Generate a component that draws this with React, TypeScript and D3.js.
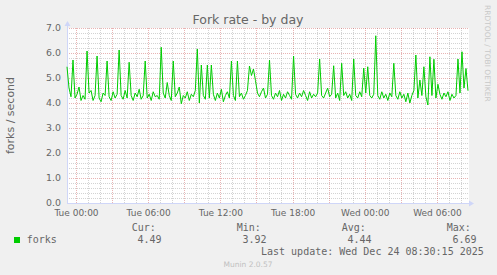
import React, { useEffect } from "react";
import * as d3 from "d3";

const TITLE = "Fork rate - by day";
const Y_LABEL = "forks / second";
const SERIES_NAME = "forks";
const Y_TICKS = [0, 1, 2, 3, 4, 5, 6, 7];
const LEGEND_HEADERS = ["Cur:", "Min:", "Avg:", "Max:"];
const LEGEND_VALUES = ["4.49", "3.92", "4.44", "6.69"];
const LAST_UPDATE = "Last update: Wed Dec 24 08:30:15 2025";
const FOOTER = "Munin 2.0.57";
const WATERMARK = "RRDTOOL / TOBI OETIKER";

// 10-minute samples starting Mon Dec 22 2025 23:15 UTC
const START = Date.UTC(2025, 11, 22, 23, 15);
const STEP_MIN = 10;
const FORKS = [
  5.45, 4.6, 4.25, 5.72, 4.2, 4.35, 4.64, 4.1, 4.3, 4.15,
  6.08, 4.4, 4.5, 4.1, 4.3, 5.88, 4.2, 4.05, 4.4, 4.3,
  5.68, 4.25, 4.1, 4.45, 4.2, 4.35, 6.12, 4.3, 4.15, 4.5,
  4.2, 5.63, 4.3, 4.1, 4.4, 4.25, 4.55, 4.15, 4.3, 5.68,
  4.2, 4.35, 4.1, 4.45, 4.25, 4.3, 4.15, 6.23, 4.4, 4.2,
  4.82, 4.3, 4.1, 5.68, 4.25, 4.4, 4.64, 3.97, 4.3, 4.2,
  4.45, 4.1, 4.35, 4.25, 4.5, 6.16, 4.0, 5.52, 4.3, 4.15,
  5.52, 4.2, 5.52, 4.35, 4.1, 4.4, 4.2, 4.55, 4.05, 4.3,
  4.45, 4.2, 5.68, 4.3, 4.1, 5.68, 4.25, 4.4, 4.15, 4.3,
  4.5, 5.48, 5.1, 5.36, 4.9, 4.4, 4.25, 4.45, 4.6, 4.2,
  4.35, 5.72, 4.3, 4.15, 4.4, 4.25, 4.5, 4.1, 4.35, 4.2,
  4.45, 4.3, 4.15, 5.88, 4.35, 4.2, 4.4, 4.25, 4.5, 4.3,
  4.1, 4.45, 4.2, 4.35, 4.25, 4.4, 5.76, 4.3, 4.2, 4.4,
  4.6, 4.25, 4.35, 5.49, 4.2, 4.4, 4.1, 5.59, 4.3, 4.45,
  4.2, 4.35, 4.1, 5.76, 4.3, 4.2, 4.45, 4.25, 5.4, 4.4,
  5.45, 4.3, 4.2, 4.35, 6.69, 4.3, 4.15, 4.45, 4.2, 4.35,
  4.1, 4.4, 4.25, 5.59, 4.3, 4.15, 4.45, 4.2, 4.35, 4.05,
  4.4, 4.0, 4.3, 4.5, 5.92, 4.2, 4.92, 4.3, 5.45, 4.25,
  3.92, 5.85, 4.3, 5.75, 4.2, 4.75, 4.35, 4.15, 4.4, 4.25,
  4.45, 4.1, 4.35, 4.2, 4.3, 5.76, 4.4, 6.05, 4.6, 5.38,
  4.49,
];

const W = 497;
const H = 275;
const PL = 67, PR = 468, PT = 28, PB = 203;
const FONT = "'DejaVu Sans', sans-serif";
const MONO = "'DejaVu Sans Mono', monospace";
const TXT = "#666666";

export default function App() {
  useEffect(() => {
    document.body.style.margin = "0";
  }, []);

  const t0 = new Date(START);
  const t1 = new Date(START + 401 * 5 * 60000);
  const x = d3.scaleUtc().domain([t0, t1]).range([PL, PR + 1]);
  const y = d3.scaleLinear().domain([0, 7]).range([PB, PT]);

  const data = FORKS.map((v, i) => ({ t: new Date(START + i * STEP_MIN * 60000), v }));
  const line = d3
    .line<{ t: Date; v: number }>()
    .x((d) => x(d.t))
    .y((d) => y(d.v));

  const majorX = d3.utcHour.every(3)!.range(t0, t1);
  const minorX = d3.utcHour.every(1)!.range(t0, t1).filter((t) => t.getUTCHours() % 3 !== 0);
  const labelX = d3.utcHour.every(6)!.range(t0, t1);
  const fmt = d3.utcFormat("%a %H:%M");
  const minorY = d3.range(0, 36).map((k) => k * 0.2).filter((v) => Math.abs(v - Math.round(v)) > 1e-6);

  const px = (v: number) => Math.round(v) + 0.5;

  return (
    <svg width={W} height={H} style={{ position: "absolute", left: 0, top: 0, display: "block" }}>
      <rect x={0} y={0} width={W} height={H} fill="#F0F0F0" />
      <rect x={PL} y={PT} width={PR - PL + 1} height={PB - PT + 1} fill="#FFFFFF" />
      {/* minor grid */}
      <g stroke="rgba(140,140,140,0.38)" strokeDasharray="1,1" strokeWidth={1}>
        {minorX.map((t, i) => (
          <line key={"mx" + i} x1={px(x(t))} x2={px(x(t))} y1={PT} y2={PB + 1} />
        ))}
        {minorY.map((v, i) => (
          <line key={"my" + i} x1={PL} x2={PR + 1} y1={px(y(v))} y2={px(y(v))} />
        ))}
      </g>
      {/* major grid */}
      <g stroke="rgba(190,40,40,0.35)" strokeDasharray="1,1" strokeWidth={1}>
        {majorX.map((t, i) => (
          <line key={"Mx" + i} x1={px(x(t))} x2={px(x(t))} y1={PT} y2={PB + 1} />
        ))}
        {Y_TICKS.map((v, i) => (
          <line key={"My" + i} x1={PL} x2={PR + 1} y1={px(y(v))} y2={px(y(v))} />
        ))}
      </g>
      {/* axes */}
      <g stroke="#CFD6F8" strokeWidth={1}>
        <line x1={PL + 0.5} x2={PL + 0.5} y1={PB + 1} y2={PT - 4} />
        <line x1={PL} x2={PR + 3} y1={PB + 0.5} y2={PB + 0.5} />
      </g>
      <path d={`M${PL + 0.5},${PT - 7} L${PL - 2.5},${PT - 2} L${PL + 3.5},${PT - 2} Z`} fill="#CFD6F8" />
      <path d={`M${PR + 6},${PB + 0.5} L${PR + 1},${PB - 2.5} L${PR + 1},${PB + 3.5} Z`} fill="#CFD6F8" />
      {/* data */}
      <path d={line(data) || ""} fill="none" stroke="#00CC00" strokeWidth={1} />
      {/* y ticks */}
      <g fontFamily={FONT} fontSize={9.4} fill={TXT} textAnchor="end">
        {Y_TICKS.map((v, i) => (
          <text key={"yt" + i} x={61} y={y(v) + 3.3}>
            {v.toFixed(1)}
          </text>
        ))}
      </g>
      {/* x ticks */}
      <g fontFamily={FONT} fontSize={9} fill={TXT} textAnchor="middle">
        {labelX.map((t, i) => (
          <text key={"xt" + i} x={x(t) + 0.5} y={215.5}>
            {fmt(t)}
          </text>
        ))}
      </g>
      <text x={248} y={24} fontFamily={FONT} fontSize={12.5} fill={TXT} textAnchor="middle">
        {TITLE}
      </text>
      <text
        transform={`translate(13.5,${(PT + PB) / 2}) rotate(-90)`}
        fontFamily={FONT}
        fontSize={11}
        fill={TXT}
        textAnchor="middle"
      >
        {Y_LABEL}
      </text>
      <text
        transform={`translate(485,5) rotate(90)`}
        fontFamily={FONT}
        fontSize={7.5}
        fill="#C8C8C8"
      >
        {WATERMARK}
      </text>
      {/* legend */}
      <rect x={14} y={237} width={6} height={6} fill="#00CC00" />
      <g fontFamily={MONO} fontSize={10} fill={TXT}>
        <text x={26.7} y={243}>{SERIES_NAME}</text>
        {LEGEND_HEADERS.map((h, i) => (
          <text key={"lh" + i} x={131.7 + i * 105} y={231}>
            {h}
          </text>
        ))}
        {LEGEND_VALUES.map((v, i) => (
          <text key={"lv" + i} x={137.5 + i * 105} y={243}>
            {v}
          </text>
        ))}
        <text x={261} y={255}>{LAST_UPDATE}</text>
      </g>
      <text x={248} y={266.5} fontFamily={FONT} fontSize={7.5} fill="#C0C0C0" textAnchor="middle">
        {FOOTER}
      </text>
    </svg>
  );
}
